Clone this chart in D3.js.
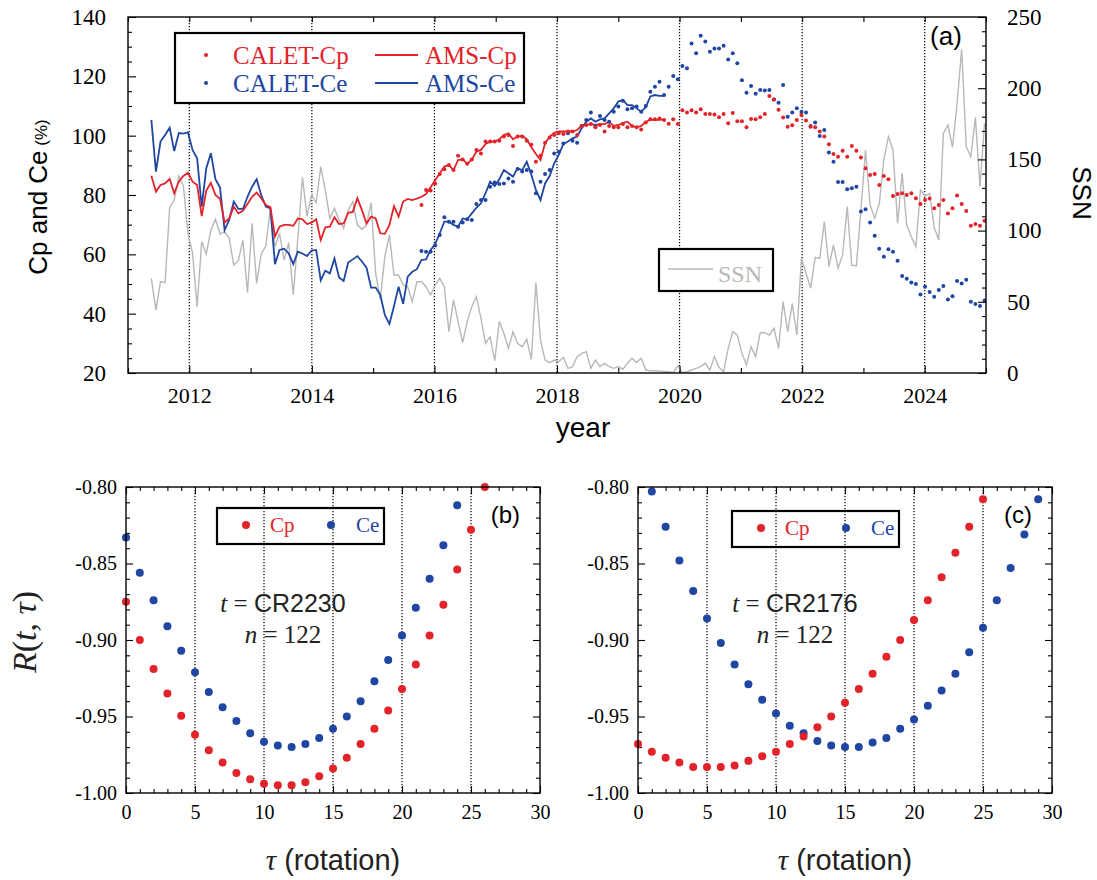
<!DOCTYPE html>
<html><head><meta charset="utf-8">
<script src="https://cdn.jsdelivr.net/npm/d3@7"></script>
<style>body{margin:0;background:#fff}</style>
</head><body>
<svg id="c" width="1097" height="880" xmlns="http://www.w3.org/2000/svg"></svg>
<script>
// ---------- DATA ----------
// Time grid of the top panel: one sample per solar (Bartels) rotation
const gridStart = 2011.381;   // year of first sample
const gridStep = 0.0747;      // years per rotation sample

const amsCp = [86.5,81.1,83.4,83.9,85.4,80.6,84.5,86.4,87.5,84.5,83.4,72.9,81.5,84.1,80.0,78.7,70.7,72.1,76.1,73.8,
  74.7,77.0,79.4,80.8,78.9,76.6,75.9,66.0,69.3,69.9,69.9,69.6,72.1,71.8,70.2,70.7,71.8,64.8,69.1,69.3,
  72.5,70.2,70.4,74.0,74.3,78.9,74.9,70.4,72.7,72.1,67.1,66.9,69.9,76.3,72.7,77.8,78.7,78.3,78.8,79.4,
  80.3,82.6,85.0,
  87.3,89.6,90.1,88.4,91.8,92.0,90.5,92.0,94.6,95.2,97.2,98.0,98.0,98.8,100.2,100.8,98.8,99.7,99.9,98.8,
  96.1,93.8,91.8,97.4,99.7,101.0,101.4,101.4,101.4,101.4,101.9,103.3,103.6,103.9,103.6,103.9,103.9,104.7,103.3,103.6,
  104.2,104.7,103.3,102.8,103.3,104.7,105.3,105.3,105.3,105.5];

const amsCe = [105.3,87.9,98.0,100.2,102.7,94.8,100.9,100.7,101.1,95.2,92.4,76.1,89.0,94.1,85.3,82.5,68.2,71.6,77.8,75.3,
  75.3,79.4,82.8,85.3,80.0,76.1,75.5,56.7,61.5,61.9,60.3,56.7,60.9,60.3,59.4,61.3,61.5,51.2,54.5,53.6,
  58.6,52.2,51.0,57.2,58.3,59.4,57.6,55.5,48.8,48.8,46.4,39.6,36.5,42.5,49.1,43.3,52.5,54.1,55.0,58.1,
  58.3,61.5,63.5,
  67.1,71.0,71.0,69.9,69.3,72.1,71.8,73.8,75.7,77.2,80.6,84.5,83.0,85.3,88.4,87.3,86.2,89.0,88.4,91.2,
  86.8,81.7,78.3,83.9,86.4,90.7,93.5,97.2,98.0,99.1,99.7,102.5,104.7,105.8,104.7,105.5,105.8,107.5,109.2,111.5,
  112.0,110.3,110.3,109.2,108.1,109.6,113.2,113.7,113.4,113.4];

const caletStartIndex = 59;
const caletCp = [76.6,81.7,81.5,83.9,
  87.1,88.7,90.1,88.4,93.2,92.0,90.5,92.0,95.2,94.0,
  98.0,98.0,98.0,98.3,99.7,100.2,96.5,99.7,99.7,98.3,
  96.9,91.2,93.2,97.6,99.4,100.2,100.8,100.6,101.4,101.4,
  100.2,103.3,103.6,103.9,102.8,103.6,101.4,103.3,102.8,102.8,
  103.9,102.8,103.3,102.8,102.1,104.4,105.5,105.5,105.8,105.3,
  104.0,105.5,103.9,108.6,107.8,108.6,107.8,
  108.9,107.3,107.3,107.1,106.2,107.3,104.2,107.6,104.9,104.9,
  102.8,105.6,105.5,106.2,107.3,113.4,112.2,108.7,106.1,103.0,
  103.5,105.3,107.0,105.1,103.0,102.8,101.4,99.7,97.1,93.8,
  92.9,94.9,92.9,96.5,94.9,92.6,89.0,86.7,87.1,83.4,
  86.4,85.3,79.7,80.3,80.6,80.0,80.6,78.9,77.0,78.3,
  78.8,75.5,76.6,78.3,73.8,75.5,79.8,77.0,74.6,69.6,
  70.2,69.6,71.3];

const caletCe = [61.1,60.9,60.9,63.0,
  66.5,72.5,71.0,71.0,69.3,70.7,71.8,71.6,77.0,78.3,
  78.3,82.8,84.2,83.7,83.9,85.6,84.5,88.8,87.9,88.4,
  87.9,80.6,84.5,87.1,88.4,94.0,94.6,97.4,100.8,98.3,
  97.6,103.3,105.3,107.8,103.3,106.6,105.3,104.7,108.1,109.8,
  111.8,108.9,109.2,109.8,108.1,110.0,114.8,116.5,118.2,113.7,
  116.5,120.1,119.0,123.5,122.7,131.1,127.8,
  133.7,131.7,128.3,129.4,129.4,130.3,125.7,127.8,124.4,118.7,
  114.5,116.7,114.1,115.4,115.2,115.4,112.2,111.1,117.1,106.4,
  107.8,109.2,108.1,107.8,103.3,104.4,99.9,101.9,94.3,91.2,
  84.4,84.4,81.9,82.3,82.8,74.4,75.2,70.7,66.3,61.9,
  59.2,61.7,60.9,57.8,52.7,51.8,50.5,50.0,46.5,49.1,
  47.3,45.7,48.0,49.3,44.8,45.9,51.0,50.2,51.4,44.0,
  43.3,42.6,44.4];

const ssn = [66.5,44.2,64.1,63.4,116.3,121.5,138.3,131.3,98.1,84.0,46.6,92.2,83.6,100.4,107.9,97.6,99.2,94.6,75.8,78.9,
  93.4,56.4,105.1,63.0,83.6,89.2,115.6,88.7,98.1,79.3,91.5,54.8,94.6,137.4,110.2,125.0,119.6,144.9,128.5,108.6,
  115.6,107.4,101.6,114.5,120.3,103.9,100.9,103.9,119.6,70.0,51.7,81.7,96.9,68.8,68.8,61.8,60.6,50.1,64.1,64.1,
  60.6,54.8,61.8,
  66.5,60.6,29.0,51.3,36.1,21.3,36.1,46.6,53.6,38.4,20.8,25.5,8.7,36.1,27.9,17.3,29.0,20.8,18.5,23.6,
  9.6,63.4,23.2,9.1,7.3,9.1,8.0,11.0,3.3,4.5,11.5,13.8,15.0,3.3,9.1,4.5,6.8,4.5,3.3,4.5,
  2.6,6.8,10.3,7.3,10.3,2.1,1.6,1.6,1.4,0.9,0.9,0.2,5.0,0.2,0.9,2.1,3.3,
  4.5,6.8,2.1,11.5,4.0,0.9,17.3,29.0,26.7,13.8,5.6,18.5,11.5,28.3,28.3,26.7,31.4,17.3,50.1,29.0,
  48.9,26.7,80.5,70.0,59.5,81.2,80.5,106.3,74.7,89.9,73.5,82.9,116.8,75.8,75.2,114.5,156.6,118.0,108.6,118.7,
  149.6,166.0,156.6,105.1,140.2,103.9,95.7,88.7,128.5,124.3,126.2,102.3,93.4,168.3,174.2,158.5,189.4,227.3,159.0,151.9,
  179.5,130.9,175.3];

// bottom panels: R(t, tau) for tau = 0,1,2,...
const tauB_Cp = [-0.875,-0.900,-0.919,-0.935,-0.9495,-0.962,-0.972,-0.980,-0.987,-0.991,-0.994,-0.995,-0.995,-0.993,-0.989,
  -0.984,-0.977,-0.968,-0.958,-0.946,-0.932,-0.916,-0.897,-0.877,-0.854,-0.828,-0.800];
const tauB_Ce = [-0.833,-0.856,-0.874,-0.891,-0.907,-0.921,-0.934,-0.944,-0.953,-0.961,-0.9665,-0.969,-0.970,-0.968,-0.964,
  -0.958,-0.950,-0.940,-0.927,-0.913,-0.897,-0.879,-0.860,-0.838,-0.812];
const tauC_Cp = [-0.968,-0.973,-0.977,-0.980,-0.983,-0.983,-0.983,-0.982,-0.979,-0.976,-0.973,-0.968,-0.963,-0.957,-0.950,
  -0.941,-0.932,-0.922,-0.911,-0.900,-0.887,-0.874,-0.859,-0.843,-0.826,-0.808];
const tauC_Ce = [null,-0.803,-0.826,-0.848,-0.868,-0.886,-0.902,-0.916,-0.929,-0.939,-0.948,-0.956,-0.961,-0.966,-0.969,
  -0.970,-0.970,-0.967,-0.964,-0.958,-0.952,-0.943,-0.933,-0.922,-0.908,-0.892,-0.874,-0.853,-0.831,-0.808];

const yearTicks = d3.range(2011, 2026, 1);
const yearLabels = [2012,2014,2016,2018,2020,2022,2024];
const leftTicks = [20,40,60,80,100,120,140];
const rightTicks = [0,50,100,150,200,250];
const tauTicks = [0,5,10,15,20,25,30];
const rTicks = [-1.00,-0.95,-0.90,-0.85,-0.80];

// ---------- DRAW ----------
const svg = d3.select("#c");
const RED = "#e3232a", BLUE = "#1f46a3", GREY = "#b8b8b8";
const serif = "'Liberation Serif','Times New Roman',serif";
const sans = "'Liberation Sans',Arial,sans-serif";
const tYear = i => gridStart + i * gridStep;

function styleAxis(g, size) {
  g.select(".domain").remove();
  g.selectAll(".tick line").attr("stroke", "#000").attr("stroke-width", 1.1);
  g.selectAll(".tick text").attr("font-family", serif).attr("font-size", size).attr("fill", "#000");
}
function frame(g, L, R, T, B) {
  g.append("rect").attr("x", L).attr("y", T).attr("width", R - L).attr("height", B - T)
    .attr("fill", "none").attr("stroke", "#000").attr("stroke-width", 1.4);
}
function dotted(g, xs, vals, T, B) {
  g.selectAll(null).data(vals).join("line")
    .attr("x1", d => xs(d)).attr("x2", d => xs(d)).attr("y1", T).attr("y2", B)
    .attr("stroke", "#000").attr("stroke-width", 1.2).attr("stroke-dasharray", "1.2,1.8");
}

// ===== Top panel =====
const P = {l: 128, r: 986, t: 17, b: 373};
const x = d3.scaleLinear().domain([2011, 2025]).range([P.l, P.r]);
const yL = d3.scaleLinear().domain([20, 140]).range([P.b, P.t]);
const yR = d3.scaleLinear().domain([0, 250]).range([P.b, P.t]);
const topG = svg.append("g");

svg.append("clipPath").attr("id", "clipTop").append("rect")
  .attr("x", P.l).attr("y", P.t).attr("width", P.r - P.l).attr("height", P.b - P.t);

dotted(topG, x, yearLabels, P.t, P.b);

const plot = topG.append("g").attr("clip-path", "url(#clipTop)");
plot.append("path").datum(ssn)
  .attr("d", d3.line().x((d, i) => x(tYear(i))).y(d => yR(d)))
  .attr("fill", "none").attr("stroke", GREY).attr("stroke-width", 1.4);
plot.append("path").datum(amsCe)
  .attr("d", d3.line().x((d, i) => x(tYear(i))).y(d => yL(d)))
  .attr("fill", "none").attr("stroke", BLUE).attr("stroke-width", 1.8);
plot.append("path").datum(amsCp)
  .attr("d", d3.line().x((d, i) => x(tYear(i))).y(d => yL(d)))
  .attr("fill", "none").attr("stroke", RED).attr("stroke-width", 1.8);
plot.selectAll(".ce").data(caletCe).join("circle")
  .attr("cx", (d, i) => x(tYear(i + caletStartIndex))).attr("cy", d => yL(d)).attr("r", 2).attr("fill", BLUE);
plot.selectAll(".cp").data(caletCp).join("circle")
  .attr("cx", (d, i) => x(tYear(i + caletStartIndex))).attr("cy", d => yL(d)).attr("r", 2).attr("fill", RED);

// axes
const gx = topG.append("g").attr("transform", `translate(0,${P.b})`)
  .call(d3.axisBottom(x).tickValues(yearTicks).tickSize(-6).tickPadding(14)
    .tickFormat(d => yearLabels.includes(d) ? String(d) : ""));
styleAxis(gx, 22);
gx.selectAll(".tick line").attr("y2", d => yearLabels.includes(d) ? -7 : -5);
const gxt = topG.append("g").attr("transform", `translate(0,${P.t})`)
  .call(d3.axisTop(x).tickValues(yearTicks).tickSize(-5).tickFormat(""));
styleAxis(gxt, 22);

const gyl = topG.append("g").attr("transform", `translate(${P.l},0)`)
  .call(d3.axisLeft(yL).tickValues(leftTicks).tickSize(-8).tickPadding(22).tickFormat(d3.format("d")));
styleAxis(gyl, 23);
const gyl2 = topG.append("g").attr("transform", `translate(${P.l},0)`)
  .call(d3.axisLeft(yL).tickValues(d3.range(25, 140, 5).filter(v => v % 20 !== 0)).tickSize(-4).tickFormat(""));
styleAxis(gyl2, 23);

const gyr = topG.append("g").attr("transform", `translate(${P.r},0)`)
  .call(d3.axisRight(yR).tickValues(rightTicks).tickSize(-8).tickPadding(21).tickFormat(d3.format("d")));
styleAxis(gyr, 23);
const gyr2 = topG.append("g").attr("transform", `translate(${P.r},0)`)
  .call(d3.axisRight(yR).tickValues(d3.range(10, 250, 10).filter(v => v % 50 !== 0)).tickSize(-4).tickFormat(""));
styleAxis(gyr2, 23);

frame(topG, P.l, P.r, P.t, P.b);

// titles
const ylab = topG.append("text").attr("transform", "translate(47,197) rotate(-90)")
  .attr("text-anchor", "middle").attr("font-family", sans).attr("fill", "#000");
ylab.append("tspan").attr("font-size", 26).text("Cp and Ce");
ylab.append("tspan").attr("font-size", 17).text(" (%)");
topG.append("text").attr("x", 583).attr("y", 437).attr("text-anchor", "middle")
  .attr("font-family", sans).attr("font-size", 28).text("year");
topG.append("text").attr("transform", "translate(1073,193) rotate(90)").attr("text-anchor", "middle")
  .attr("font-family", sans).attr("font-size", 26).text("SSN");
topG.append("text").attr("x", 946).attr("y", 45).attr("text-anchor", "middle")
  .attr("font-family", sans).attr("font-size", 26).text("(a)");

// legend top
const lg = topG.append("g");
lg.append("rect").attr("x", 175).attr("y", 33).attr("width", 349).attr("height", 70)
  .attr("fill", "#fff").attr("stroke", "#000").attr("stroke-width", 2.2);
const legRows = [
  {name: "CALET-Cp", line: "AMS-Cp", c: RED, y: 55},
  {name: "CALET-Ce", line: "AMS-Ce", c: BLUE, y: 83}
];
legRows.forEach(r => {
  lg.append("circle").attr("cx", 206).attr("cy", r.y).attr("r", 2).attr("fill", r.c);
  lg.append("text").attr("x", 233).attr("y", r.y + 8.5).attr("font-family", serif).attr("font-size", 25)
    .attr("fill", r.c).text(r.name);
  lg.append("line").attr("x1", 375).attr("x2", 418).attr("y1", r.y).attr("y2", r.y)
    .attr("stroke", r.c).attr("stroke-width", 1.8);
  lg.append("text").attr("x", 425).attr("y", r.y + 8.5).attr("font-family", serif).attr("font-size", 25)
    .attr("fill", r.c).text(r.line);
});
// SSN legend
topG.append("rect").attr("x", 659).attr("y", 249).attr("width", 114).attr("height", 42)
  .attr("fill", "#fff").attr("stroke", "#000").attr("stroke-width", 2.2);
topG.append("line").attr("x1", 668).attr("x2", 713).attr("y1", 269).attr("y2", 269)
  .attr("stroke", GREY).attr("stroke-width", 1.5);
topG.append("text").attr("x", 718).attr("y", 282).attr("font-family", serif).attr("font-size", 24)
  .attr("fill", GREY).text("SSN");

// ===== Bottom panels =====
function panel(L, cp, ce, tLabel, tag, legBox) {
  const T = 487, B = 793, R = L + 414;
  const xs = d3.scaleLinear().domain([0, 30]).range([L, R]);
  const ys = d3.scaleLinear().domain([-1.0, -0.8]).range([B, T]);
  const g = svg.append("g");
  dotted(g, xs, [5, 10, 15, 20, 25], T, B);

  const ax = g.append("g").attr("transform", `translate(0,${B})`)
    .call(d3.axisBottom(xs).tickValues(tauTicks).tickSize(-7).tickPadding(12).tickFormat(d3.format("d")));
  styleAxis(ax, 20);
  const ax2 = g.append("g").attr("transform", `translate(0,${B})`)
    .call(d3.axisBottom(xs).tickValues(d3.range(1, 30).filter(v => v % 5)).tickSize(-4).tickFormat(""));
  styleAxis(ax2, 20);
  const axT = g.append("g").attr("transform", `translate(0,${T})`)
    .call(d3.axisTop(xs).tickValues(tauTicks).tickSize(-7).tickFormat(""));
  styleAxis(axT, 20);
  const axT2 = g.append("g").attr("transform", `translate(0,${T})`)
    .call(d3.axisTop(xs).tickValues(d3.range(1, 30).filter(v => v % 5)).tickSize(-4).tickFormat(""));
  styleAxis(axT2, 20);
  const minorR = d3.range(1, 20).filter(k => k % 5).map(k => -1 + k * 0.01);
  const ay = g.append("g").attr("transform", `translate(${L},0)`)
    .call(d3.axisLeft(ys).tickValues(rTicks).tickSize(-7).tickPadding(9).tickFormat(d => d.toFixed(2)));
  styleAxis(ay, 20);
  const ay2 = g.append("g").attr("transform", `translate(${L},0)`)
    .call(d3.axisLeft(ys).tickValues(minorR).tickSize(-4).tickFormat(""));
  styleAxis(ay2, 20);
  const ayR = g.append("g").attr("transform", `translate(${R},0)`)
    .call(d3.axisRight(ys).tickValues(rTicks).tickSize(-7).tickFormat(""));
  styleAxis(ayR, 20);
  const ayR2 = g.append("g").attr("transform", `translate(${R},0)`)
    .call(d3.axisRight(ys).tickValues(minorR).tickSize(-4).tickFormat(""));
  styleAxis(ayR2, 20);

  g.selectAll(".pce").data(ce.map((v, i) => [i, v]).filter(d => d[1] !== null)).join("circle")
    .attr("cx", d => xs(d[0])).attr("cy", d => ys(d[1])).attr("r", 4).attr("fill", BLUE);
  g.selectAll(".pcp").data(cp.map((v, i) => [i, v])).join("circle")
    .attr("cx", d => xs(d[0])).attr("cy", d => ys(d[1])).attr("r", 4).attr("fill", RED);

  frame(g, L, R, T, B);

  // legend
  g.append("rect").attr("x", legBox.x).attr("y", legBox.y).attr("width", 167).attr("height", 36)
    .attr("fill", "none").attr("stroke", "#000").attr("stroke-width", 2.2);
  const cy = legBox.y + 17;
  g.append("circle").attr("cx", legBox.x + 29).attr("cy", cy).attr("r", 4).attr("fill", RED);
  g.append("text").attr("x", legBox.x + 53).attr("y", cy + 7).attr("font-family", serif).attr("font-size", 21)
    .attr("fill", RED).text("Cp");
  g.append("circle").attr("cx", legBox.x + 114).attr("cy", cy).attr("r", 4).attr("fill", BLUE);
  g.append("text").attr("x", legBox.x + 139).attr("y", cy + 7).attr("font-family", serif).attr("font-size", 21)
    .attr("fill", BLUE).text("Ce");

  // annotations
  const cx = L + 157;
  const t1 = g.append("text").attr("x", cx).attr("y", 612).attr("text-anchor", "middle")
    .attr("font-size", 25).attr("fill", "#222");
  t1.append("tspan").attr("font-family", serif).attr("font-style", "italic").text("t");
  t1.append("tspan").attr("font-family", serif).text(" = ");
  t1.append("tspan").attr("font-family", sans).text(tLabel);
  const t2 = g.append("text").attr("x", cx).attr("y", 643).attr("text-anchor", "middle")
    .attr("font-size", 25).attr("fill", "#222");
  t2.append("tspan").attr("font-family", serif).attr("font-style", "italic").text("n");
  t2.append("tspan").attr("font-family", serif).text(" = 122");

  g.append("text").attr("x", R - 20).attr("y", 523).attr("text-anchor", "end")
    .attr("font-family", sans).attr("font-size", 24).text(tag);

  const xl = g.append("text").attr("x", (L + R) / 2).attr("y", 870).attr("text-anchor", "middle")
    .attr("font-size", 29).attr("fill", "#222");
  xl.append("tspan").attr("font-family", serif).attr("font-style", "italic").text("τ");
  xl.append("tspan").attr("font-family", sans).text(" (rotation)");
}

panel(126, tauB_Cp, tauB_Ce, "CR2230", "(b)", {x: 217, y: 508});
panel(638, tauC_Cp, tauC_Ce, "CR2176", "(c)", {x: 732, y: 511});

// R(t, tau) label
const rl = svg.append("text").attr("transform", "translate(36,632) rotate(-90)").attr("text-anchor", "middle")
  .attr("font-family", serif).attr("font-size", 34).attr("fill", "#222");
rl.append("tspan").attr("font-style", "italic").text("R");
rl.append("tspan").text("(");
rl.append("tspan").attr("font-style", "italic").text("t");
rl.append("tspan").text(", ");
rl.append("tspan").attr("font-style", "italic").text("τ");
rl.append("tspan").text(")");
</script>
</body></html>
